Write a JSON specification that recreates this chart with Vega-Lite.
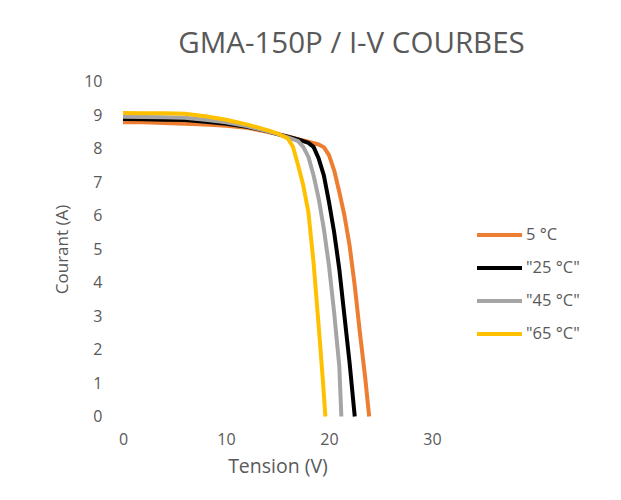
{
  "$schema": "https://vega.github.io/schema/vega-lite/v6.json",
  "autosize": {"type": "none"},
  "width": 309,
  "height": 335,
  "padding": {"left": 123, "top": 81.5, "right": 189, "bottom": 83.5},
  "background": "white",
  "title": {
    "text": "GMA-150P / I-V COURBES",
    "fontSize": 29.5,
    "font": "Open Sans",
    "fontWeight": "normal",
    "color": "#595959",
    "anchor": "middle",
    "frame": "group",
    "dx": 74,
    "offset": 14
  },
  "config": {
    "view": {"stroke": null},
    "font": "Open Sans",
    "axis": {
      "grid": false,
      "domain": false,
      "ticks": false,
      "labelFontSize": 16,
      "labelColor": "#595959",
      "labelFont": "Open Sans",
      "labelFlush": false,
      "titleColor": "#595959",
      "titleFont": "Open Sans",
      "titleFontWeight": "normal"
    },
    "legend": {
      "labelFontSize": 16.5,
      "labelColor": "#595959",
      "labelFont": "Open Sans"
    }
  },
  "data": {
    "values": [
      {"serie": "5 °C", "tension": 0, "courant": 8.78},
      {"serie": "5 °C", "tension": 2, "courant": 8.78},
      {"serie": "5 °C", "tension": 4, "courant": 8.76},
      {"serie": "5 °C", "tension": 6, "courant": 8.74},
      {"serie": "5 °C", "tension": 8, "courant": 8.72},
      {"serie": "5 °C", "tension": 10, "courant": 8.68},
      {"serie": "5 °C", "tension": 12, "courant": 8.62},
      {"serie": "5 °C", "tension": 14, "courant": 8.5},
      {"serie": "5 °C", "tension": 15, "courant": 8.43},
      {"serie": "5 °C", "tension": 16, "courant": 8.36},
      {"serie": "5 °C", "tension": 17, "courant": 8.28},
      {"serie": "5 °C", "tension": 18, "courant": 8.2},
      {"serie": "5 °C", "tension": 19, "courant": 8.12},
      {"serie": "5 °C", "tension": 19.5, "courant": 8.04},
      {"serie": "5 °C", "tension": 20, "courant": 7.8},
      {"serie": "5 °C", "tension": 20.5, "courant": 7.35},
      {"serie": "5 °C", "tension": 21, "courant": 6.7},
      {"serie": "5 °C", "tension": 21.5, "courant": 6.0},
      {"serie": "5 °C", "tension": 22, "courant": 5.1},
      {"serie": "5 °C", "tension": 22.5, "courant": 3.9},
      {"serie": "5 °C", "tension": 23, "courant": 2.5},
      {"serie": "5 °C", "tension": 23.5, "courant": 1.2},
      {"serie": "5 °C", "tension": 23.9, "courant": 0},
      {"serie": "\"25 °C\"", "tension": 0, "courant": 8.88},
      {"serie": "\"25 °C\"", "tension": 2, "courant": 8.87},
      {"serie": "\"25 °C\"", "tension": 4, "courant": 8.86},
      {"serie": "\"25 °C\"", "tension": 6, "courant": 8.85},
      {"serie": "\"25 °C\"", "tension": 8, "courant": 8.8},
      {"serie": "\"25 °C\"", "tension": 10, "courant": 8.74},
      {"serie": "\"25 °C\"", "tension": 12, "courant": 8.65},
      {"serie": "\"25 °C\"", "tension": 14, "courant": 8.52},
      {"serie": "\"25 °C\"", "tension": 15, "courant": 8.43},
      {"serie": "\"25 °C\"", "tension": 16, "courant": 8.35},
      {"serie": "\"25 °C\"", "tension": 17, "courant": 8.27},
      {"serie": "\"25 °C\"", "tension": 18, "courant": 8.17},
      {"serie": "\"25 °C\"", "tension": 18.5, "courant": 8.05},
      {"serie": "\"25 °C\"", "tension": 19, "courant": 7.7},
      {"serie": "\"25 °C\"", "tension": 19.5, "courant": 7.2},
      {"serie": "\"25 °C\"", "tension": 20, "courant": 6.4},
      {"serie": "\"25 °C\"", "tension": 20.5, "courant": 5.5},
      {"serie": "\"25 °C\"", "tension": 21, "courant": 4.4},
      {"serie": "\"25 °C\"", "tension": 21.5, "courant": 3.0},
      {"serie": "\"25 °C\"", "tension": 22, "courant": 1.6},
      {"serie": "\"25 °C\"", "tension": 22.5, "courant": 0},
      {"serie": "\"45 °C\"", "tension": 0, "courant": 8.95},
      {"serie": "\"45 °C\"", "tension": 2, "courant": 8.94},
      {"serie": "\"45 °C\"", "tension": 4, "courant": 8.93},
      {"serie": "\"45 °C\"", "tension": 6, "courant": 8.92},
      {"serie": "\"45 °C\"", "tension": 8, "courant": 8.86},
      {"serie": "\"45 °C\"", "tension": 10, "courant": 8.78},
      {"serie": "\"45 °C\"", "tension": 12, "courant": 8.67},
      {"serie": "\"45 °C\"", "tension": 14, "courant": 8.52},
      {"serie": "\"45 °C\"", "tension": 15, "courant": 8.43},
      {"serie": "\"45 °C\"", "tension": 16, "courant": 8.33},
      {"serie": "\"45 °C\"", "tension": 17, "courant": 8.22},
      {"serie": "\"45 °C\"", "tension": 17.5, "courant": 8.05},
      {"serie": "\"45 °C\"", "tension": 18, "courant": 7.75},
      {"serie": "\"45 °C\"", "tension": 18.5, "courant": 7.2},
      {"serie": "\"45 °C\"", "tension": 19, "courant": 6.5},
      {"serie": "\"45 °C\"", "tension": 19.5, "courant": 5.6},
      {"serie": "\"45 °C\"", "tension": 20, "courant": 4.5},
      {"serie": "\"45 °C\"", "tension": 20.5, "courant": 3.1},
      {"serie": "\"45 °C\"", "tension": 21, "courant": 1.5},
      {"serie": "\"45 °C\"", "tension": 21.2, "courant": 0},
      {"serie": "\"65 °C\"", "tension": 0, "courant": 9.06},
      {"serie": "\"65 °C\"", "tension": 2, "courant": 9.05},
      {"serie": "\"65 °C\"", "tension": 4, "courant": 9.05},
      {"serie": "\"65 °C\"", "tension": 6, "courant": 9.04},
      {"serie": "\"65 °C\"", "tension": 8, "courant": 8.96},
      {"serie": "\"65 °C\"", "tension": 10, "courant": 8.86},
      {"serie": "\"65 °C\"", "tension": 12, "courant": 8.72},
      {"serie": "\"65 °C\"", "tension": 14, "courant": 8.55},
      {"serie": "\"65 °C\"", "tension": 15, "courant": 8.45},
      {"serie": "\"65 °C\"", "tension": 16, "courant": 8.3},
      {"serie": "\"65 °C\"", "tension": 16.5, "courant": 8.05},
      {"serie": "\"65 °C\"", "tension": 17, "courant": 7.5},
      {"serie": "\"65 °C\"", "tension": 17.5, "courant": 6.9},
      {"serie": "\"65 °C\"", "tension": 18, "courant": 6.1},
      {"serie": "\"65 °C\"", "tension": 18.5, "courant": 4.6},
      {"serie": "\"65 °C\"", "tension": 19, "courant": 2.7},
      {"serie": "\"65 °C\"", "tension": 19.4, "courant": 1.1},
      {"serie": "\"65 °C\"", "tension": 19.65, "courant": 0}
    ]
  },
  "mark": {"type": "line", "strokeWidth": 4, "strokeJoin": "round"},
  "encoding": {
    "x": {
      "field": "tension",
      "type": "quantitative",
      "scale": {"domain": [0, 30], "nice": false},
      "axis": {"values": [0, 10, 20, 30], "labelPadding": 15, "title": "Tension (V)", "titleFontSize": 19.5, "titlePadding": 10}
    },
    "y": {
      "field": "courant",
      "type": "quantitative",
      "scale": {"domain": [0, 10], "nice": false},
      "axis": {"values": [0, 1, 2, 3, 4, 5, 6, 7, 8, 9, 10], "labelPadding": 21, "title": "Courant (A)", "titleFontSize": 17, "titlePadding": 12}
    },
    "color": {
      "field": "serie",
      "type": "nominal",
      "sort": null,
      "scale": {
        "domain": ["5 °C", "\"25 °C\"", "\"45 °C\"", "\"65 °C\""],
        "range": ["#ED7D31", "#000000", "#A5A5A5", "#FFC000"]
      },
      "legend": {
        "title": null,
        "orient": "none",
        "legendX": 352,
        "legendY": 129,
        "symbolType": "stroke",
        "symbolSize": 2025,
        "symbolStrokeWidth": 4,
        "labelOffset": 2,
        "rowPadding": 0
      }
    }
  }
}
